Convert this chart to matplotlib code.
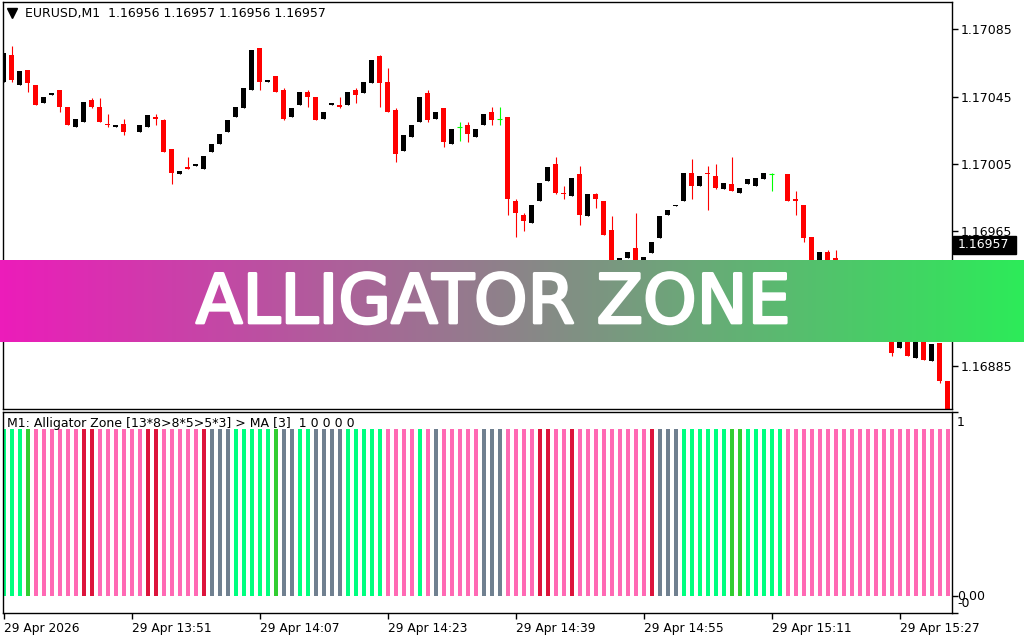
import numpy as np
import matplotlib
matplotlib.use("Agg")
import matplotlib.pyplot as plt
from matplotlib import patheffects as pe
from matplotlib.colors import LinearSegmentedColormap
from matplotlib.lines import Line2D
from matplotlib.patches import Rectangle
from matplotlib.ticker import FormatStrFormatter

nan = np.nan

# EURUSD M1 candles (bars 105-110 sit behind the banner)
opens = [
    1.17054, 1.17070, 1.17052, 1.17061, 1.17052, 1.17041, 1.17046, 1.17049, 1.17039, 1.17027,
    1.17030, 1.17043, 1.17039, 1.17029, 1.17027, 1.17029, nan, 1.17024, 1.17027, 1.17033,
    1.17031, 1.17014, 1.16999, 1.17003, 1.17004, 1.17002, 1.17012, 1.17017, 1.17024, 1.17033,
    1.17038, 1.17049, 1.17074, 1.17054, 1.17057, 1.17049, 1.17033, 1.17040, 1.17048, 1.17045,
    1.17032, 1.17040, 1.17040, 1.17040, 1.17049, 1.17047, 1.17053, 1.17069, 1.17054, 1.17037,
    1.17013, 1.17021, 1.17030, 1.17047, 1.17032, 1.17038, 1.17017, 1.17027, 1.17028, 1.17021,
    1.17028, 1.17036, 1.17032, 1.17033, 1.16983, 1.16975, 1.16970, 1.16983, 1.16995, 1.17005,
    1.16988, 1.16986, 1.16999, 1.16974, 1.16987, 1.16983, 1.16966, 1.16944, 1.16949, 1.16955,
    1.16946, 1.16952, 1.16961, 1.16975, 1.16980, 1.16983, 1.17000, 1.16992, 1.17000, 1.16998,
    1.16990, 1.16993, 1.16988, 1.16993, 1.16992, 1.16996, 1.16999, nan, 1.16999, 1.16984,
    1.16981, 1.16962, 1.16943, 1.16953, 1.16949, 1.16936, 1.16942, 1.16931, 1.16921, 1.16927,
    1.16914, 1.16904, 1.16896, 1.16902, 1.16890, 1.16901, 1.16888, 1.16899, 1.16876,
]
highs = [
    1.17071, 1.17075, 1.17060, 1.17061, 1.17052, 1.17045, 1.17047, 1.17049, 1.17039, 1.17032,
    1.17042, 1.17044, 1.17044, 1.17035, 1.17028, 1.17032, nan, 1.17028, 1.17034, 1.17035,
    1.17032, 1.17014, 1.17001, 1.17009, 1.17005, 1.17010, 1.17017, 1.17023, 1.17031, 1.17039,
    1.17050, 1.17073, 1.17074, 1.17055, 1.17057, 1.17050, 1.17038, 1.17048, 1.17049, 1.17045,
    1.17036, 1.17041, 1.17045, 1.17048, 1.17050, 1.17054, 1.17067, 1.17070, 1.17062, 1.17038,
    1.17022, 1.17028, 1.17045, 1.17049, 1.17036, 1.17038, 1.17026, 1.17030, 1.17030, 1.17026,
    1.17035, 1.17039, 1.17039, 1.17033, 1.16984, 1.16976, 1.16981, 1.16994, 1.17003, 1.17009,
    1.16992, 1.16997, 1.17004, 1.16987, 1.16988, 1.16983, 1.16974, 1.16949, 1.16953, 1.16976,
    1.16950, 1.16959, 1.16974, 1.16978, 1.16981, 1.17000, 1.17008, 1.16998, 1.17004, 1.17005,
    1.16994, 1.17009, 1.16991, 1.16996, 1.16997, 1.17000, 1.17000, nan, 1.16999, 1.16989,
    1.16981, 1.16962, 1.16953, 1.16954, 1.16954, 1.16943, 1.16942, 1.16931, 1.16927, 1.16927,
    1.16914, 1.16904, 1.16902, 1.16902, 1.16900, 1.16901, 1.16898, 1.16899, 1.16876,
]
lows = [
    1.17054, 1.17054, 1.17052, 1.17048, 1.17040, 1.17041, 1.17046, 1.17036, 1.17028, 1.17027,
    1.17030, 1.17038, 1.17030, 1.17027, 1.17027, 1.17022, nan, 1.17024, 1.17027, 1.17028,
    1.17012, 1.16993, 1.16999, 1.17002, 1.17004, 1.17002, 1.17012, 1.17017, 1.17024, 1.17033,
    1.17038, 1.17049, 1.17049, 1.17054, 1.17048, 1.17031, 1.17033, 1.17040, 1.17039, 1.17031,
    1.17032, 1.17040, 1.17038, 1.17040, 1.17041, 1.17047, 1.17053, 1.17039, 1.17036, 1.17006,
    1.17013, 1.17021, 1.17030, 1.17030, 1.17032, 1.17015, 1.17017, 1.17019, 1.17018, 1.17021,
    1.17028, 1.17028, 1.17028, 1.16975, 1.16962, 1.16965, 1.16970, 1.16983, 1.16995, 1.16987,
    1.16984, 1.16986, 1.16969, 1.16974, 1.16979, 1.16963, 1.16943, 1.16944, 1.16949, 1.16944,
    1.16946, 1.16952, 1.16961, 1.16975, 1.16980, 1.16983, 1.16984, 1.16992, 1.16978, 1.16990,
    1.16990, 1.16989, 1.16988, 1.16993, 1.16992, 1.16996, 1.16989, nan, 1.16983, 1.16975,
    1.16959, 1.16941, 1.16943, 1.16942, 1.16939, 1.16936, 1.16930, 1.16924, 1.16921, 1.16914,
    1.16906, 1.16891, 1.16896, 1.16891, 1.16890, 1.16889, 1.16888, 1.16875, 1.16858,
]
closes = [
    1.17071, 1.17055, 1.17060, 1.17053, 1.17040, 1.17045, 1.17047, 1.17039, 1.17028, 1.17032,
    1.17042, 1.17039, 1.17030, 1.17028, 1.17028, 1.17024, nan, 1.17028, 1.17034, 1.17032,
    1.17012, 1.17000, 1.17001, 1.17002, 1.17005, 1.17010, 1.17017, 1.17023, 1.17031, 1.17039,
    1.17050, 1.17073, 1.17054, 1.17055, 1.17048, 1.17032, 1.17038, 1.17048, 1.17045, 1.17031,
    1.17036, 1.17041, 1.17039, 1.17048, 1.17046, 1.17054, 1.17067, 1.17053, 1.17036, 1.17011,
    1.17022, 1.17028, 1.17045, 1.17031, 1.17036, 1.17018, 1.17026, 1.17027, 1.17023, 1.17026,
    1.17035, 1.17031, 1.17032, 1.16984, 1.16976, 1.16971, 1.16981, 1.16994, 1.17003, 1.16988,
    1.16987, 1.16997, 1.16975, 1.16987, 1.16984, 1.16963, 1.16943, 1.16949, 1.16953, 1.16944,
    1.16950, 1.16959, 1.16974, 1.16978, 1.16981, 1.17000, 1.16992, 1.16998, 1.16999, 1.16991,
    1.16994, 1.16989, 1.16991, 1.16996, 1.16997, 1.17000, 1.16999, nan, 1.16983, 1.16983,
    1.16961, 1.16941, 1.16953, 1.16942, 1.16939, 1.16943, 1.16930, 1.16924, 1.16927, 1.16914,
    1.16906, 1.16893, 1.16902, 1.16891, 1.16900, 1.16889, 1.16898, 1.16876, 1.16858,
]

# Alligator Zone histogram state per bar
zone = list(
    "gggG" "pppppp" "rr" "pppppp" "rr" "ppppp" "r" "sss" "ggggg" "G" "ss" "gg" "ssss"
    "ggggg" "pppp" "g" "p" "s" "ppppp" "sss" "pppp" "rr" "pp" "r" "ppppppppp" "r" "sss"
    "gggggg" "GG" "ggggg" "ppppppppppppppppppppp"
)
zone_level = [1] * len(zone)
zone_colors = {"g": "#00FF7F", "G": "#32CD32", "p": "#FF69B4", "r": "#DC143C", "s": "#708090"}

price_ticks = [1.17085, 1.17045, 1.17005, 1.16965, 1.16925, 1.16885]
time_labels = ["29 Apr 2026", "29 Apr 13:51", "29 Apr 14:07", "29 Apr 14:23",
               "29 Apr 14:39", "29 Apr 14:55", "29 Apr 15:11", "29 Apr 15:27"]
header = "EURUSD,M1  1.16956 1.16957 1.16956 1.16957"
ind_title = "M1: Alligator Zone [13*8>8*5>5*3] > MA [3]  1 0 0 0 0"
last_price = "1.16957"

W, H = 1024, 640
fig = plt.figure(figsize=(W / 100, H / 100), dpi=100)
fig.patch.set_facecolor("white")


def px_axes(x0, y0, x1, y1):
    return fig.add_axes([x0 / W, 1 - y1 / H, (x1 - x0) / W, (y1 - y0) / H])


o = np.array(opens)
h = np.array(highs)
l = np.array(lows)
c = np.array(closes)
x = np.arange(len(o))
xlim = (-0.1, 118.56)

# main price window
ax = px_axes(2.7, 1.7, 952, 409)
up = c > o
dn = c < o
dj = c == o
ax.vlines(x[up], l[up], h[up], color="black", lw=0.8)
ax.bar(x[up], c[up] - o[up], bottom=o[up], width=0.62, color="black", linewidth=0)
ax.vlines(x[dn], l[dn], h[dn], color="red", lw=0.8)
ax.bar(x[dn], o[dn] - c[dn], bottom=c[dn], width=0.62, color="red", linewidth=0)
ax.vlines(x[dj], l[dj], h[dj], color="#00FF00", lw=0.8)
ax.hlines(o[dj], x[dj] - 0.3, x[dj] + 0.3, color="#00FF00", lw=0.8)
ax.set_xlim(*xlim)
ax.set_ylim(1.1685965, 1.1710138)
ax.set_xticks([])
ax.yaxis.tick_right()
ax.set_yticks(price_ticks)
ax.yaxis.set_major_formatter(FormatStrFormatter("%.5f"))
ax.tick_params(axis="y", direction="out", length=4, width=1, labelsize=9, pad=2)
for s in ax.spines.values():
    s.set_linewidth(1.0)

# indicator window
ax2 = px_axes(2.7, 412, 952, 612.7)
ax2.bar(x, zone_level, width=0.5, color=[zone_colors[z] for z in zone], linewidth=0)
ax2.set_xlim(*xlim)
ax2.set_ylim(-0.102, 1.102)
ax2.yaxis.tick_right()
ax2.set_yticks([1.102, 0, -0.102])
ax2.set_yticklabels(["", "", ""])
ax2.tick_params(axis="y", direction="out", length=4, width=1)
ax2.set_xticks(x[::16])
ax2.set_xticklabels(time_labels)
ax2.tick_params(axis="x", direction="out", length=4, width=1, labelsize=8.8, pad=3)
for t in ax2.get_xticklabels():
    t.set_ha("left")
for s in ax2.spines.values():
    s.set_linewidth(1.0)

fig.text(957 / W, 1 - 422 / H, "1", fontsize=9, va="center")
fig.text(957 / W, 1 - 597 / H, "0.00", fontsize=9, va="center")
fig.text(957 / W, 1 - 603.5 / H, "-0", fontsize=9, va="center")
fig.text(7 / W, 1 - 424 / H, ind_title, fontsize=9, va="center")

# header
fig.add_artist(Line2D([11.7 / W], [1 - 12.5 / H], marker="v", markersize=7,
                      color="black", transform=fig.transFigure))
fig.text(25 / W, 1 - 13.5 / H, header, fontsize=9, va="center")

# current price box
fig.add_artist(Rectangle((953 / W, 1 - 254 / H), 63 / W, 18 / H,
                         transform=fig.transFigure, color="black"))
fig.text(958 / W, 1 - 245 / H, last_price, fontsize=9, va="center", color="white")

# banner
bax = px_axes(0, 260, 1024, 342.5)
grad = LinearSegmentedColormap.from_list("banner", ["#EC1CBA", "#2DEB59"])
bax.imshow(np.linspace(0, 1, 512)[None, :], aspect="auto", cmap=grad, extent=[0, 1, 0, 1])
bax.set_xlim(0, 1)
bax.set_ylim(0, 1)
bax.axis("off")
bax.text(493 / 1024, (342.5 - 323) / 82.5, "ALLIGATOR ZONE", color="white",
         fontsize=49, ha="center", va="baseline",
         path_effects=[pe.withStroke(linewidth=2, foreground="white")])

fig.savefig("out.png", dpi=100)
